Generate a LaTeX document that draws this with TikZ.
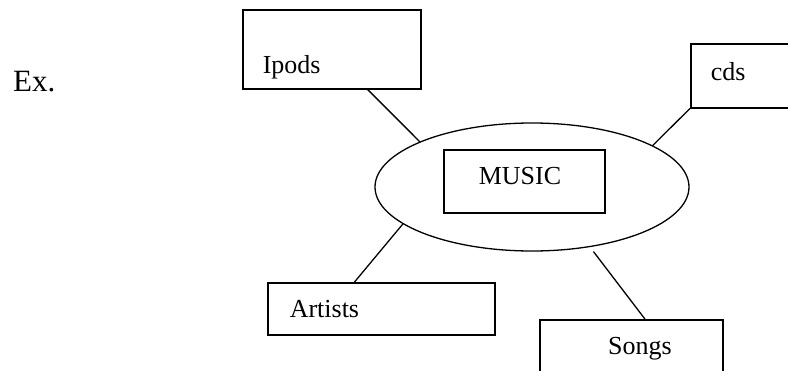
\documentclass[tikz,border=0pt]{standalone}
\usepackage{fontspec}
\setmainfont{Liberation Serif}
\usetikzlibrary{calc,shapes.geometric}

\newcommand\conceptfont{\fontsize{26}{30}\selectfont}
\newcommand\exfont{\fontsize{31}{36}\selectfont}

\begin{document}
\begin{tikzpicture}[x=1pt,y=-1pt]
\tikzset{
  conceptbox/.style={rectangle,draw=black,line width=1.5pt,anchor=north west,inner ysep=0pt,font=\conceptfont},
  topic/.style={ellipse,draw=black,line width=1.3pt,inner sep=0pt,minimum width=314pt,minimum height=128pt},
  link/.style={draw=black,line width=1.3pt,line cap=round}
}
\useasboundingbox (0,0) rectangle (788,370);
\node[anchor=base west,inner sep=0pt,font=\exfont] (ex) at (13,91) {Ex.};
\node[topic] (n_topic) at (532,187) {};
\node[conceptbox,align=left,inner xsep=35pt,text width=91pt,text height=35pt,text depth=28pt] (n_music) at (443,149) {MUSIC};
\node[conceptbox,align=left,inner xsep=20pt,text width=138pt,text height=64pt,text depth=15pt] (n_ipods) at (242,9) {Ipods};
\node[conceptbox,align=left,inner xsep=20pt,text width=80pt,text height=37pt,text depth=27pt] (n_cds) at (690,43) {cds};
\node[conceptbox,align=left,inner xsep=22pt,text width=183pt,text height=35pt,text depth=17pt] (n_artists) at (267,282) {Artists};
\node[conceptbox,align=right,inner xsep=51pt,text width=81pt,text height=35pt,text depth=46pt] (n_songs) at (539,319) {Songs};
\draw[link] ($(n_ipods.south west)!0.7!(n_ipods.south east)$) -- (n_topic.158);
\draw[link] (n_cds.south west) -- (n_topic.19);
\draw[link] ($(n_artists.north west)!0.383!(n_artists.north east)$) -- (n_topic.196);
\draw[link,shorten >=6pt] ($(n_songs.north west)!0.574!(n_songs.north east)$) -- (n_topic.-46);
\end{tikzpicture}
\end{document}
